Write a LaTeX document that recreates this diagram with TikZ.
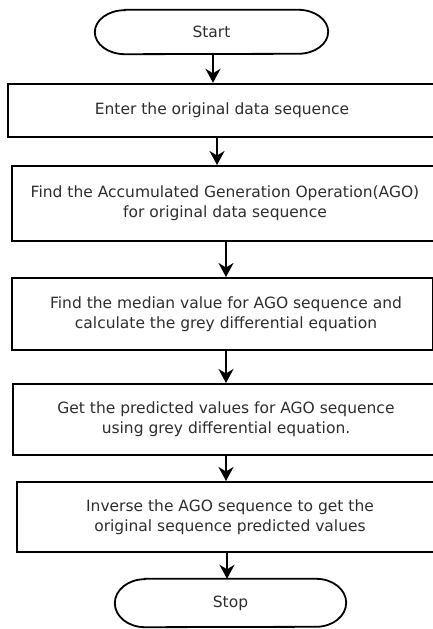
\documentclass[tikz,border=0pt]{standalone}
\usepackage{fontspec}
\setmainfont{DejaVu Sans}
\usetikzlibrary{arrows.meta}
\begin{document}
\begin{tikzpicture}[x=1pt,y=1pt,
  txt/.style={font=\fontsize{15.5pt}{20pt}\selectfont, text=black!82, align=center, inner sep=0pt},
  procbox/.style={draw=black, line width=2pt, rectangle, inner sep=0pt, anchor=west},
  termbox/.style={txt, rectangle, inner sep=0pt},
  edge/.style={line width=1.8pt},
  arr/.style={line width=1.8pt, -{Stealth[length=14pt,width=15pt,inset=4.5pt]}}
]
\useasboundingbox (0,0) rectangle (433,629);
\clip (0,0) rectangle (433,629);
\fill[white] (0,0) rectangle (433,629);

% terminals
\node[termbox, minimum width=233pt, minimum height=44pt] (s) at (211.5,597) {Start};
\node[termbox, minimum width=231pt, minimum height=48pt] (e) at (230.5,26) {Stop};

% process boxes (extend past the right edge, as in the reference)
\node[procbox, minimum width=450pt, minimum height=53pt, line width=2.4pt] (b1) at (7,518.5) {};
\node[procbox, minimum width=450pt, minimum height=75pt] (b2) at (11,425.5) {};
\node[procbox, minimum width=421pt, minimum height=72pt] (b3) at (11,315) {};
\node[procbox, minimum width=450pt, minimum height=71pt] (b4) at (12,209.5) {};
\node[procbox, minimum width=450pt, minimum height=70pt] (b5) at (16,112) {};

% texts
\node[txt] (t1) at (222,518.5) {Enter the original data sequence};
\node[txt] (t2) at (225,425.5) {Find the Accumulated Generation Operation(AGO)\\for original data sequence};
\node[txt] (t3) at (226,315) {Find the median value for AGO sequence and\\calculate\ the grey differential equation};
\node[txt] (t4) at (226,209.5) {Get the predicted values for AGO sequence\\using grey differential equation.};
\node[txt] (t5) at (230,112) {Inverse the AGO sequence to get the\\original sequence predicted values};

\draw[edge] ([xshift=30pt]s.north west) -- ([xshift=-30pt]s.north east)
  arc[start angle=90,end angle=-90,x radius=30pt,y radius=22pt]
  -- ([xshift=30pt]s.south west)
  arc[start angle=270,end angle=90,x radius=30pt,y radius=22pt] -- cycle;
\draw[edge] ([xshift=30pt]e.north west) -- ([xshift=-30pt]e.north east)
  arc[start angle=90,end angle=-90,x radius=30pt,y radius=24pt]
  -- ([xshift=30pt]e.south west)
  arc[start angle=270,end angle=90,x radius=30pt,y radius=24pt] -- cycle;

\coordinate (a1) at ([xshift=1.5pt]s.south);
\draw[arr] (a1) -- (a1 |- b1.north);
\coordinate (a2) at ([xshift=-5pt]t1 |- b1.south);
\draw[arr] (a2) -- (a2 |- b2.north);
\coordinate (a3) at ([xshift=1pt]t2 |- b2.south);
\draw[arr] (a3) -- (a3 |- b3.north);
\coordinate (a4) at (t3 |- b3.south);
\draw[arr] (a4) -- (a4 |- b4.north);
\coordinate (a5) at (t4 |- b4.south);
\draw[arr] (a5) -- (a5 |- b5.north);
\coordinate (a6) at ([xshift=-3pt]t5 |- b5.south);
\draw[arr] (a6) -- (a6 |- e.north);
\end{tikzpicture}
\end{document}
